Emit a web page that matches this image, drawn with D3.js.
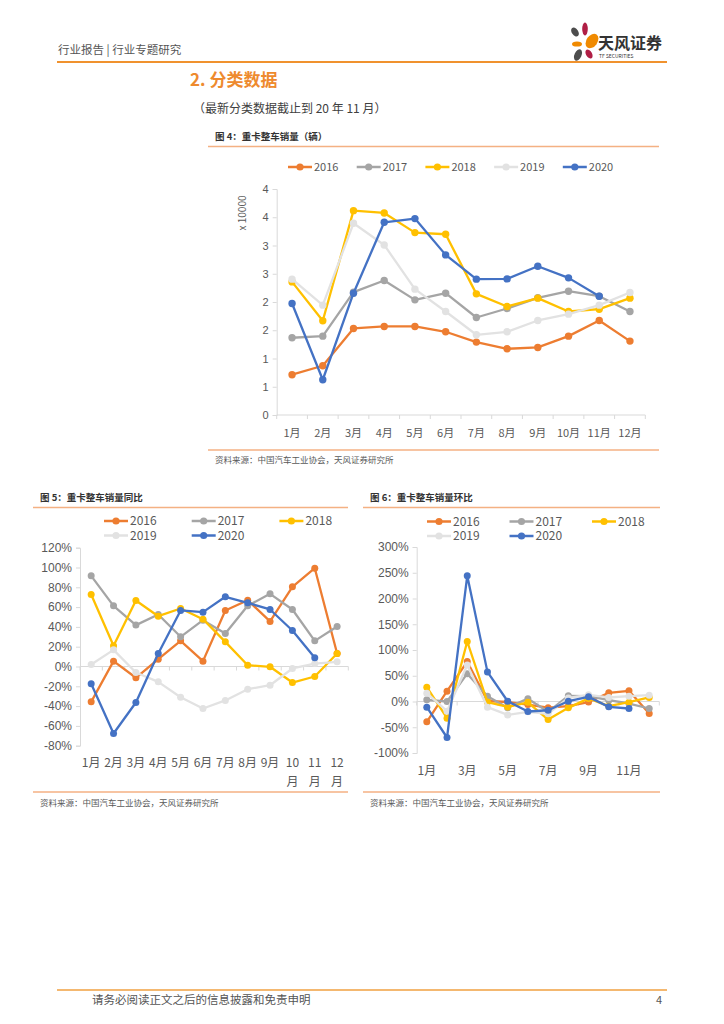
<!DOCTYPE html>
<html>
<head>
<meta charset="utf-8">
<script src="https://cdnjs.cloudflare.com/ajax/libs/d3/7.8.5/d3.min.js"></script>
<style>
body{margin:0;background:#fff;}
svg{display:block;font-family:"Noto Sans CJK SC","Noto Sans",sans-serif;}
</style>
</head>
<body>
<script>
// ---- data ----
var months = ['1月','2月','3月','4月','5月','6月','7月','8月','9月','10月','11月','12月'];
var years = ['2016','2017','2018','2019','2020'];

// 图4 重卡整车销量（辆）
var sales2016 = [7130, 8720, 15320, 15670, 15670, 14730, 12900, 11720, 11960, 13960, 16730, 13080];
var sales2017 = [13670, 13960, 21740, 23800, 20380, 21560, 17260, 18850, 20740, 21910, 21030, 18320];
var sales2018 = [23560, 16670, 36170, 35760, 32280, 31990, 21440, 19200, 20680, 18320, 18730, 20680];
var sales2019 = [24040, 19440, 33930, 30100, 22270, 18320, 14200, 14730, 16730, 17850, 19440, 21680];
var sales2020 = [19730, 6240, 21560, 34110, 34760, 28340, 24040, 24090, 26330, 24270, 21030];
var salesTicks = [0, 5000, 10000, 15000, 20000, 25000, 30000, 35000, 40000];

// 图5 同比 (%)
var yoy2016 = [-35.7, 5.4, -11.4, 7.4, 25.9, 5.4, 56.6, 67.0, 45.5, 80.5, 99.3, 13.1];
var yoy2017 = [91.6, 61.3, 41.8, 52.5, 30.0, 46.8, 33.3, 61.3, 73.4, 57.6, 25.9, 40.4];
var yoy2018 = [72.7, 20.9, 66.7, 50.8, 58.6, 47.8, 24.9, 1.3, -0.3, -16.2, -10.1, 13.1];
var yoy2019 = [2.0, 16.8, -6.1, -15.5, -31.0, -42.4, -34.3, -22.9, -18.9, -2.0, 3.0, 4.7];
var yoy2020 = [-17.5, -67.7, -36.4, 13.1, 56.6, 54.9, 70.4, 64.3, 57.6, 36.4, 8.8];
var yoyTicks = [-80, -60, -40, -20, 0, 20, 40, 60, 80, 100, 120];

// 图6 环比 (%)
var mom2016 = [-39.5, 20.1, 77.5, 1.0, -1.0, -6.0, -12.0, -9.0, -1.0, 16.8, 20.7, -23.3];
var mom2017 = [3.2, 0.0, 54.0, 10.0, -12.0, 5.5, -20.0, 11.0, 10.4, 2.6, -3.9, -13.6];
var mom2018 = [27.8, -32.4, 116.5, -1.0, -10.5, -1.5, -35.0, -12.3, 6.0, -9.0, -1.3, 7.8];
var mom2019 = [16.2, -18.8, 71.0, -11.0, -26.0, -20.0, -24.0, 7.0, 13.0, 7.8, 10.4, 12.3];
var mom2020 = [-11.0, -69.9, 244.0, 57.5, 0.5, -19.4, -17.0, 0.5, 9.0, -10.4, -13.6];
var momTicks = [-100, -50, 0, 50, 100, 150, 200, 250, 300];

var colors = ['#ED7D31', '#A5A5A5', '#FFC000', '#E2E2E2', '#4472C4'];
var orange = '#EE8A2E', lineOrange = '#F4B183', axisGray = '#D9D9D9', textGray = '#595959';

var svg = d3.select('body').append('svg').attr('width', 724).attr('height', 1024);
svg.append('rect').attr('width', 724).attr('height', 1024).attr('fill', '#fff');

// ---- page header ----
svg.append('text').attr('x', 58).attr('y', 54).attr('font-size', 11.5).attr('fill', '#555')
	.text('行业报告 | 行业专题研究');
svg.append('line').attr('x1', 57).attr('x2', 667).attr('y1', 62).attr('y2', 62)
	.attr('stroke', '#F0922E').attr('stroke-width', 2);

var logo = svg.append('g');
logo.append('ellipse').attr('cx', 575).attr('cy', 32).attr('rx', 3.2).attr('ry', 5).attr('transform', 'rotate(-35,575,32)').attr('fill', '#4D4D4D');
logo.append('ellipse').attr('cx', 585).attr('cy', 29).attr('rx', 2.8).attr('ry', 6.5).attr('fill', '#B01E45');
logo.append('ellipse').attr('cx', 592).attr('cy', 41).attr('rx', 5.5).attr('ry', 8).attr('transform', 'rotate(35,592,41)').attr('fill', '#F08A00');
logo.append('ellipse').attr('cx', 577).attr('cy', 44).attr('rx', 5).attr('ry', 2.6).attr('fill', '#F08A00');
logo.append('ellipse').attr('cx', 578).attr('cy', 55).attr('rx', 3.5).attr('ry', 6).attr('transform', 'rotate(25,578,55)').attr('fill', '#4D4D4D');
logo.append('ellipse').attr('cx', 589).attr('cy', 54).attr('rx', 3).attr('ry', 5).attr('transform', 'rotate(-30,589,54)').attr('fill', '#B01E45');
logo.append('text').attr('x', 598).attr('y', 49).attr('font-size', 16).attr('font-weight', 'bold').attr('fill', '#333')
	.text('天风证券');
logo.append('text').attr('x', 599).attr('y', 58).attr('font-size', 5).attr('fill', '#333')
	.text('TF SECURITIES');

svg.append('text').attr('x', 190).attr('y', 86).attr('font-size', 17).attr('font-weight', 'bold').attr('fill', orange)
	.text('2. 分类数据');
svg.append('text').attr('x', 193).attr('y', 113).attr('font-size', 12).attr('fill', '#404040')
	.text('（最新分类数据截止到 20 年 11 月）');

// ---- footer ----
svg.append('line').attr('x1', 57).attr('x2', 667).attr('y1', 990).attr('y2', 990)
	.attr('stroke', '#F0A040').attr('stroke-width', 1.5);
svg.append('text').attr('x', 92).attr('y', 1004).attr('font-size', 11.5).attr('fill', '#555')
	.text('请务必阅读正文之后的信息披露和免责申明');
svg.append('text').attr('x', 656).attr('y', 1004).attr('font-size', 11).attr('fill', '#555').text('4');

// ---- chart helper ----
function frame(title, x0, x1, titleY, srcY, srcLineY) {
	svg.append('text').attr('x', x0 + 7).attr('y', titleY).attr('dy', '0.35em')
		.attr('font-size', 9.5).attr('font-weight', 'bold').attr('fill', '#333').text(title);
	svg.append('line').attr('x1', x0).attr('x2', x1).attr('y1', titleY + 9.5).attr('y2', titleY + 9.5)
		.attr('stroke', lineOrange).attr('stroke-width', 1.5);
	svg.append('line').attr('x1', x0).attr('x2', x1).attr('y1', srcLineY).attr('y2', srcLineY)
		.attr('stroke', lineOrange).attr('stroke-width', 1.5);
	svg.append('text').attr('x', x0 + 7).attr('y', srcY).attr('dy', '0.35em')
		.attr('font-size', 8.5).attr('fill', textGray).text('资料来源：中国汽车工业协会，天风证券研究所');
}

function legend(startX, startY, stepX, stepY, perRow, fontSize) {
	var items = svg.append('g').selectAll('g').data(years).join('g')
		.attr('transform', function(d, i) {
			return 'translate(' + (startX + (i % perRow) * stepX) + ',' + (startY + Math.floor(i / perRow) * stepY) + ')';
		});
	items.append('line').attr('x1', 0).attr('x2', 24).attr('stroke', function(d, i) { return colors[i]; })
		.attr('stroke-width', 2.5);
	items.append('circle').attr('cx', 12).attr('r', 3.6).attr('fill', function(d, i) { return colors[i]; });
	items.append('text').attr('x', 26).attr('dy', '0.35em').attr('font-size', fontSize).attr('fill', textGray)
		.text(function(d) { return d; });
}

function drawLines(x, y, series, r) {
	var line = d3.line()
		.x(function(d, i) { return x(months[i]) + x.bandwidth() / 2; })
		.y(function(d) { return y(d); });
	series.forEach(function(vals, k) {
		var g = svg.append('g');
		g.append('path').attr('d', line(vals)).attr('fill', 'none').attr('stroke', colors[k])
			.attr('stroke-width', 2.3).attr('stroke-linejoin', 'round');
		g.selectAll('circle').data(vals).join('circle')
			.attr('cx', function(d, i) { return x(months[i]) + x.bandwidth() / 2; })
			.attr('cy', function(d) { return y(d); })
			.attr('r', r).attr('fill', colors[k]);
	});
}

function yAxis(x0, y, ticks, fmt, fontSize) {
	var g = svg.append('g').attr('transform', 'translate(' + x0 + ',0)')
		.call(d3.axisLeft(y).tickValues(ticks).tickSize(4).tickPadding(4).tickFormat(fmt));
	g.select('.domain').attr('stroke', axisGray);
	g.selectAll('.tick line').attr('stroke', axisGray);
	g.selectAll('.tick text').attr('font-size', fontSize).attr('fill', textGray).attr('font-family', null);
	return g;
}

function catTicks(x, yPos, every) {
	var bounds = d3.range(0, months.length + 1, every);
	svg.append('g').selectAll('line').data(bounds).join('line')
		.attr('x1', function(d) { return x.range()[0] + d * x.step(); })
		.attr('x2', function(d) { return x.range()[0] + d * x.step(); })
		.attr('y1', yPos).attr('y2', yPos + 4).attr('stroke', axisGray);
	svg.append('line').attr('x1', x.range()[0]).attr('x2', x.range()[1]).attr('y1', yPos).attr('y2', yPos)
		.attr('stroke', axisGray);
}

// ---- 图4 ----
frame('图 4：重卡整车销量（辆）', 208, 659, 137, 460, 450);
legend(288, 167, 68.7, 0, 5, 11);
var x4 = d3.scaleBand().domain(months).range([276.7, 645.3]);
var y4 = d3.scaleLinear().domain([0, 40000]).range([415, 189]);
yAxis(276.7, y4, salesTicks, function(d) { return d3.format('.0f')(d / 10000); }, 11);
catTicks(x4, 415, 1);
svg.append('g').selectAll('text').data(months).join('text')
	.attr('x', function(d) { return x4(d) + x4.bandwidth() / 2; }).attr('y', 433).attr('dy', '0.35em')
	.attr('text-anchor', 'middle').attr('font-size', 11).attr('fill', textGray).text(function(d) { return d; });
svg.append('text').attr('transform', 'translate(246,213) rotate(-90)').attr('text-anchor', 'middle')
	.attr('font-size', 10).attr('fill', textGray).text('x 10000');
drawLines(x4, y4, [sales2016, sales2017, sales2018, sales2019, sales2020], 3.7);

// ---- 图5 ----
frame('图 5：重卡整车销量同比', 33, 348, 498, 803, 792);
legend(104, 521, 87.7, 14.5, 3, 12);
var x5 = d3.scaleBand().domain(months).range([80, 348.3]);
var y5 = d3.scaleLinear().domain([-80, 120]).range([745.7, 547.7]);
yAxis(80, y5, yoyTicks, function(d) { return d + '%'; }, 12);
catTicks(x5, y5(0), 1);
var lab5 = svg.append('g').selectAll('text').data(months).join('text')
	.attr('text-anchor', 'middle').attr('font-size', 12).attr('fill', textGray);
lab5.each(function(d) {
	var t = d3.select(this), cx = x5(d) + x5.bandwidth() / 2;
	if (d.length > 2) {
		t.append('tspan').attr('x', cx).attr('y', 763).attr('dy', '0.35em').text(d.replace('月', ''));
		t.append('tspan').attr('x', cx).attr('y', 782).attr('dy', '0.35em').text('月');
	} else {
		t.append('tspan').attr('x', cx).attr('y', 763).attr('dy', '0.35em').text(d);
	}
});
drawLines(x5, y5, [yoy2016, yoy2017, yoy2018, yoy2019, yoy2020], 3.5);

// ---- 图6 ----
frame('图 6：重卡整车销量环比', 363, 660, 498, 803, 792);
legend(427, 521.5, 82.5, 14.5, 3, 12);
var x6 = d3.scaleBand().domain(months).range([416.7, 659.3]);
var y6 = d3.scaleLinear().domain([-100, 300]).range([753, 547]);
yAxis(416.7, y6, momTicks, function(d) { return d + '%'; }, 12);
catTicks(x6, y6(0), 2);
svg.append('g').selectAll('text').data(months.filter(function(d, i) { return i % 2 === 0; })).join('text')
	.attr('x', function(d) { return x6(d) + x6.bandwidth() / 2; }).attr('y', 771).attr('dy', '0.35em')
	.attr('text-anchor', 'middle').attr('font-size', 12).attr('fill', textGray).text(function(d) { return d; });
drawLines(x6, y6, [mom2016, mom2017, mom2018, mom2019, mom2020], 3.5);
</script>
</body>
</html>
